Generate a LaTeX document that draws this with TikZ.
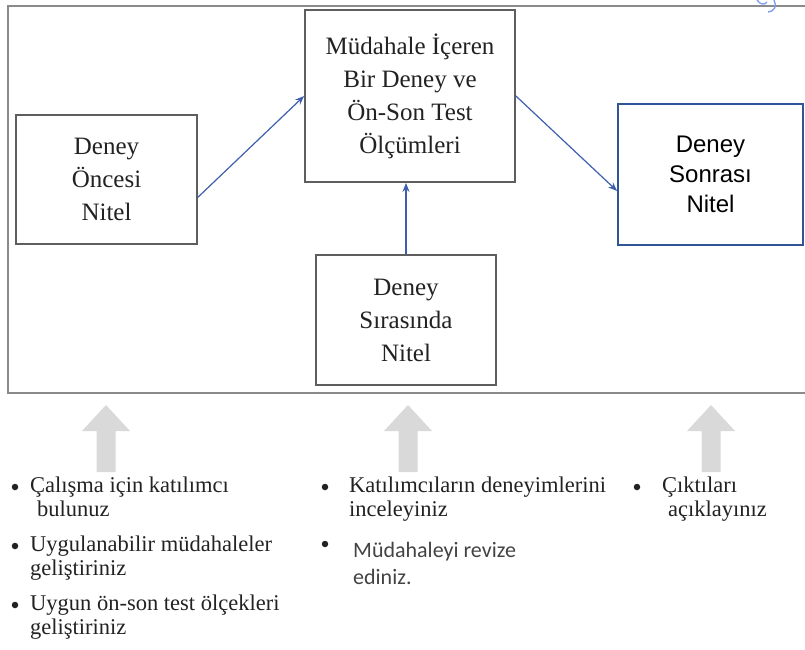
\documentclass[tikz,border=0pt]{standalone}
\usepackage{fontspec}
\setmainfont{Liberation Serif}
\newfontfamily\arialfont{Liberation Sans}
\newfontfamily\calfont{Carlito}
\usetikzlibrary{arrows.meta}
\definecolor{framegray}{HTML}{8A8A8A}
\definecolor{boxgray}{HTML}{5E5E5E}
\definecolor{boxblue}{HTML}{2F5597}
\definecolor{arrblue}{HTML}{3D5FAE}
\definecolor{txt}{HTML}{222222}
\definecolor{blockgray}{HTML}{D9D9D9}
\definecolor{lightblue}{HTML}{7D9AF2}
\tikzset{
  serifbox/.style={draw=boxgray, line width=1.8pt, fill=white, align=center, text=txt,
    font=\fontsize{25}{33}\selectfont, inner sep=0pt},
  bluebox/.style={draw=boxblue, line width=1.8pt, fill=white, align=center, text=black,
    font=\arialfont\fontsize{24}{30}\selectfont, inner sep=0pt},
  conn/.style={draw=arrblue, line width=1.2pt, -{Stealth[length=9pt,width=7pt]}},
  btxt/.style={anchor=base west, inner sep=0pt, text=txt, font=\fontsize{22.5}{24}\selectfont},
  ctxt/.style={anchor=base west, inner sep=0pt, text=txt!85, font=\calfont\fontsize{22}{24}\selectfont},
  dot/.style={circle, fill=txt, inner sep=0pt, minimum size=6.5pt},
  blockarrow/.style={fill=blockgray, draw=none}
}
\begin{document}
\begin{tikzpicture}[x=1pt, y=-1pt]
\useasboundingbox (0,0) rectangle (805,649);
% outer frame
\draw[framegray, line width=2.5pt] (806,6) -- (8,6) -- (8,393) -- (806,393);
% small blue mark at top right
\draw[lightblue, line width=1.3pt] (757,0) .. controls (760,5) and (765,5) .. (767,2);
\draw[lightblue, line width=1.3pt] (774,0) .. controls (777,6) and (775,11) .. (768,12);
% boxes
\node[serifbox, minimum width=181pt, minimum height=129pt] (pre) at (106.5,179.5)
  {Deney\\Öncesi\\Nitel};
\node[serifbox, minimum width=210pt, minimum height=172pt] (mid) at (410,96) {};
\node[align=center, text=txt, font=\fontsize{25}{33}\selectfont, inner sep=0pt, anchor=north] (midtxt) at (410,34)
  {Müdahale İçeren\\Bir Deney ve\\Ön-Son Test\\Ölçümleri};
\node[serifbox, minimum width=180pt, minimum height=130pt] (dur) at (406,320)
  {Deney\\Sırasında\\Nitel};
\node[bluebox, minimum width=185pt, minimum height=141pt] (post) at (710.5,174.5)
  {Deney\\Sonrası\\Nitel};
% connectors
\draw[conn] (pre.-11) -- (mid.west);
\draw[conn] (mid.east) -- (post.190);
\draw[conn] (dur.north) -- (dur.north |- mid.south);
% gray block arrows
\foreach \c in {106,408,711} {
  \fill[blockarrow] (\c,405) -- (\c+24,431) -- (\c+9.5,431) -- (\c+9.5,472)
    -- (\c-9.5,472) -- (\c-9.5,431) -- (\c-24,431) -- cycle;
}
% left column
\node[dot] (b1) at (15,487) {};
\node[btxt] (t1a) at (30,492) {Çalışma için katılımcı};
\node[btxt] (t1b) at (37,516) {bulunuz};
\node[dot] (b2) at (15,546) {};
\node[btxt] (t2a) at (30,551) {Uygulanabilir müdahaleler};
\node[btxt] (t2b) at (30,575) {geliştiriniz};
\node[dot] (b3) at (15,605) {};
\node[btxt] (t3a) at (30,610) {Uygun ön-son test ölçekleri};
\node[btxt] (t3b) at (30,634) {geliştiriniz};
% middle column
\node[dot] (b4) at (325,487) {};
\node[btxt] (t4a) at (349,492) {Katılımcıların deneyimlerini};
\node[btxt] (t4b) at (349,516) {inceleyiniz};
\node[dot] (b5) at (325,544) {};
\node[ctxt] (t5a) at (353,557) {Müdahaleyi revize};
\node[ctxt] (t5b) at (353,584) {ediniz.};
% right column
\node[dot] (b6) at (637,487) {};
\node[btxt] (t6a) at (662,492) {Çıktıları};
\node[btxt] (t6b) at (668,516) {açıklayınız};
\end{tikzpicture}
\end{document}
